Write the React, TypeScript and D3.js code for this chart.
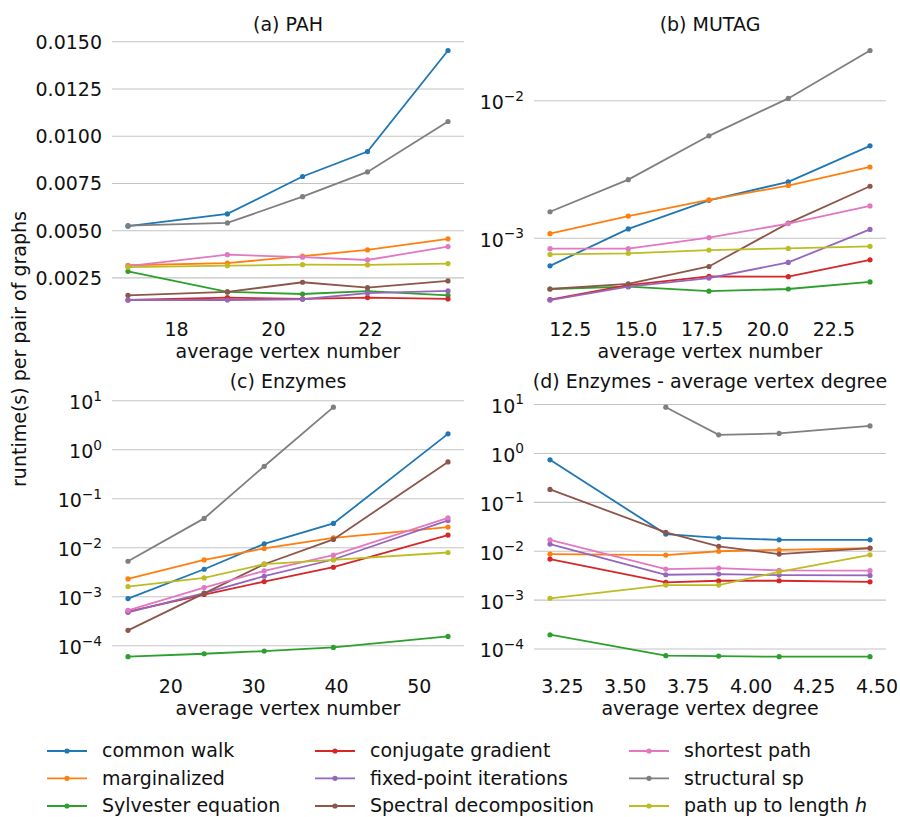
import * as d3 from 'd3';

// kernel names in legend order, tab10 colours
const series = [
  'common walk', 'marginalized', 'Sylvester equation',
  'conjugate gradient', 'fixed-point iterations', 'Spectral decomposition',
  'shortest path', 'structural sp', 'path up to length h',
];
const colors = ['#1f77b4', '#ff7f0e', '#2ca02c', '#d62728', '#9467bd', '#8c564b', '#e377c2', '#7f7f7f', '#bcbd22'];

// (a) PAH
const pahX = [17.0, 19.05, 20.6, 21.94, 23.6];
const pahY = [
  [0.00524, 0.00589, 0.00787, 0.00919, 0.01454],
  [0.00317, 0.00328, 0.00365, 0.00398, 0.00457],
  [0.00285, 0.00176, 0.00165, 0.0018, 0.00158],
  [0.00133, 0.00146, 0.00139, 0.00146, 0.00139],
  [0.00133, 0.00133, 0.00137, 0.00169, 0.00181],
  [0.00158, 0.00176, 0.00227, 0.00199, 0.00234],
  [0.00312, 0.00373, 0.0036, 0.00345, 0.00416],
  [0.00527, 0.00541, 0.0068, 0.00811, 0.01078],
  [0.00307, 0.00315, 0.0032, 0.00319, 0.00326],
];
const pahYTicks = [0.0025, 0.005, 0.0075, 0.01, 0.0125, 0.015];
const pahXTicks = [18, 20, 22];

// (b) MUTAG
const mutagX = [11.73, 14.7, 17.76, 20.77, 23.87];
const mutagY = [
  [0.000631, 0.00117, 0.00189, 0.00257, 0.0047],
  [0.00108, 0.00145, 0.0019, 0.00242, 0.0033],
  [0.000428, 0.000445, 0.000413, 0.000428, 0.000482],
  [0.000358, 0.000457, 0.000528, 0.000526, 0.000698],
  [0.000356, 0.000445, 0.000514, 0.000668, 0.00116],
  [0.000428, 0.000467, 0.000624, 0.00129, 0.00239],
  [0.000841, 0.000841, 0.00101, 0.00128, 0.00172],
  [0.00156, 0.00267, 0.00556, 0.0104, 0.0232],
  [0.000764, 0.000777, 0.000822, 0.000845, 0.000875],
];
const mutagYTicks = [1e-3, 1e-2];
const mutagXTicks = [12.5, 15, 17.5, 20, 22.5];

// (c) Enzymes, by vertex number
const enzX = [14.84, 24.03, 31.28, 39.63, 53.46];
const enzY: (number | null)[][] = [
  [0.000916, 0.00364, 0.012, 0.0313, 2.11],
  [0.00231, 0.00565, 0.00966, 0.0159, 0.0264],
  [0.0000596, 0.0000686, 0.0000776, 0.0000923, 0.000155],
  [0.000496, 0.00111, 0.00204, 0.004, 0.0181],
  [0.00048, 0.00119, 0.00262, 0.00575, 0.0361],
  [0.000206, 0.00117, 0.00461, 0.0148, 0.564],
  [0.000527, 0.00154, 0.00337, 0.00705, 0.0408],
  [0.0053, 0.0397, 0.46, 7.4, null],
  [0.00161, 0.00242, 0.00461, 0.00565, 0.008],
];
const enzYTicks = [1e-4, 1e-3, 1e-2, 1e-1, 1, 10];
const enzXTicks = [20, 30, 40, 50];

// (d) Enzymes, by vertex degree
const degX = [3.201, 3.661, 3.871, 4.111, 4.472];
const degY: (number | null)[][] = [
  [0.74, 0.0224, 0.0188, 0.0171, 0.0171],
  [0.00875, 0.00834, 0.01, 0.0107, 0.0115],
  [0.000196, 0.000073, 0.0000719, 0.0000696, 0.0000696],
  [0.0069, 0.00231, 0.00249, 0.00249, 0.00237],
  [0.014, 0.0033, 0.00341, 0.00325, 0.0032],
  [0.184, 0.0243, 0.0126, 0.00875, 0.0116],
  [0.0171, 0.00432, 0.00452, 0.00406, 0.004],
  [null, 8.83, 2.4, 2.56, 3.66],
  [0.00109, 0.00203, 0.00203, 0.0038, 0.00845],
];
const degYTicks = [1e-4, 1e-3, 1e-2, 1e-1, 1, 10];
const degXTicks = [3.25, 3.5, 3.75, 4, 4.25, 4.5];

const FONT = '"DejaVu Sans", sans-serif';
const FS = 19;

interface PanelProps {
  title: string;
  xlabel: string;
  xs: number[];
  ys: (number | null)[][];
  xTicks: number[];
  yTicks: number[];
  xFmt: (v: number) => string;
  log: boolean;
  left: number;
  top: number;
  width: number;
  height: number;
}

// matplotlib style 5% margins
function padded(lo: number, hi: number): [number, number] {
  const m = (hi - lo) * 0.05;
  return [lo - m, hi + m];
}

function Panel({ title, xlabel, xs, ys, xTicks, yTicks, xFmt, log, left, top, width, height }: PanelProps) {
  const [x0, x1] = padded(d3.min(xs)!, d3.max(xs)!);
  const x = d3.scaleLinear().domain([x0, x1]).range([left, left + width]);

  const flat = ys.flat().filter((v): v is number => v != null);
  let y: d3.ScaleContinuousNumeric<number, number>;
  if (log) {
    const [l0, l1] = padded(Math.log10(d3.min(flat)!), Math.log10(d3.max(flat)!));
    y = d3.scaleLog().domain([10 ** l0, 10 ** l1]).range([top + height, top]);
  } else {
    const [v0, v1] = padded(d3.min(flat)!, d3.max(flat)!);
    y = d3.scaleLinear().domain([v0, v1]).range([top + height, top]);
  }

  const line = d3.line<number | null>()
    .defined(d => d != null)
    .x((_, i) => x(xs[i]))
    .y(d => y(d as number));

  const expo = (t: number) => {
    const e = Math.round(Math.log10(t));
    return e < 0 ? '\u2212' + Math.abs(e) : String(e);
  };

  return (
    <g>
      {yTicks.map(t => (
        <g key={t}>
          <line x1={left} x2={left + width} y1={y(t)} y2={y(t)} stroke="#c4c4c4" strokeWidth={1.1} />
          {log ? (
            <text x={left - 10} y={y(t) + 8.4} textAnchor="end" fontSize={FS} fill="#111">
              10
              <tspan dy={-8.5} fontSize={13.7}>{expo(t)}</tspan>
            </text>
          ) : (
            <text x={left - 10} y={y(t) + 6.9} textAnchor="end" fontSize={FS} fill="#111">
              {d3.format('.4f')(t)}
            </text>
          )}
        </g>
      ))}
      {xTicks.map(t => (
        <text key={t} x={x(t)} y={top + height + 23.5} textAnchor="middle" fontSize={FS} fill="#111">
          {xFmt(t)}
        </text>
      ))}
      <text x={left + width / 2} y={top + height + 45.5} textAnchor="middle" fontSize={FS} fill="#111">{xlabel}</text>
      <text x={left + width / 2} y={top - 7} textAnchor="middle" fontSize={FS} fill="#111">{title}</text>
      {ys.map((row, i) => (
        <g key={i} stroke={colors[i]} fill={colors[i]}>
          <path d={line(row) ?? ''} fill="none" strokeWidth={1.8} />
          {row.map((v, j) => v == null ? null : (
            <circle key={j} cx={x(xs[j])} cy={y(v)} r={2.6} stroke="none" />
          ))}
        </g>
      ))}
    </g>
  );
}

export default function App() {
  const W = 352;
  const H = 274.5;
  const colX = [47, 315, 629];
  const rowY = [751, 778.3, 806];
  return (
    <div style={{ position: 'absolute', left: 0, top: 0 }}>
      <svg width={900} height={817} style={{ display: 'block', fontFamily: FONT }}>
        <rect width={900} height={817} fill="white" />
        <Panel title="(a) PAH" xlabel="average vertex number" xs={pahX} ys={pahY}
          xTicks={pahXTicks} yTicks={pahYTicks} xFmt={d3.format('d')} log={false}
          left={112} top={38} width={W} height={H} />
        <Panel title="(b) MUTAG" xlabel="average vertex number" xs={mutagX} ys={mutagY}
          xTicks={mutagXTicks} yTicks={mutagYTicks} xFmt={d3.format('.1f')} log={true}
          left={534} top={38} width={W} height={H} />
        <Panel title="(c) Enzymes" xlabel="average vertex number" xs={enzX} ys={enzY}
          xTicks={enzXTicks} yTicks={enzYTicks} xFmt={d3.format('d')} log={true}
          left={112} top={394.7} width={W} height={H} />
        <Panel title="(d) Enzymes - average vertex degree" xlabel="average vertex degree" xs={degX} ys={degY}
          xTicks={degXTicks} yTicks={degYTicks} xFmt={d3.format('.2f')} log={true}
          left={534} top={394.7} width={W} height={H} />
        <text transform="translate(26,349) rotate(-90)" textAnchor="middle" fontSize={FS} fill="#111">
          runtime(s) per pair of graphs
        </text>
        {series.map((s, i) => {
          const cx = colX[Math.floor(i / 3)];
          const cy = rowY[i % 3];
          const isH = s.endsWith(' h');
          return (
            <g key={s}>
              <line x1={cx} x2={cx + 40} y1={cy} y2={cy} stroke={colors[i]} strokeWidth={1.8} />
              <circle cx={cx + 20} cy={cy} r={2.6} fill={colors[i]} />
              <text x={cx + 55} y={cy + 6.3} fontSize={FS} fill="#111">
                {isH ? s.slice(0, -1) : s}
                {isH && <tspan fontStyle="italic">h</tspan>}
              </text>
            </g>
          );
        })}
      </svg>
    </div>
  );
}
